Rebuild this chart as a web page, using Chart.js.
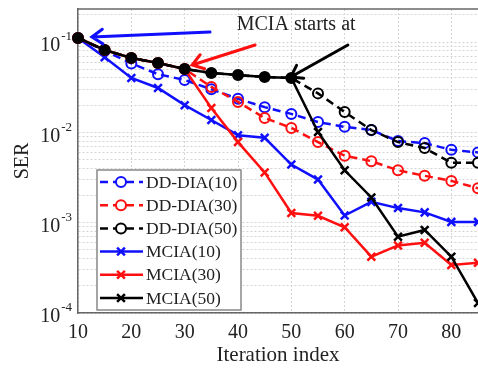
<!DOCTYPE html>
<html>
<head>
<meta charset="utf-8">
<script src="https://cdn.jsdelivr.net/npm/chart.js@4.4.0/dist/chart.umd.min.js"></script>
<style>
  html, body { margin: 0; padding: 0; background: #fff; }
</style>
</head>
<body>
<canvas id="graphique-ser" width="478" height="370"></canvas>
<script>
// *** donnees ***
const iterations = [10, 15, 20, 25, 30, 35, 40, 45, 50, 55, 60, 65, 70, 75, 80, 85];

const ddDia10 = [0.111, 0.080, 0.058, 0.044, 0.038, 0.030, 0.0235, 0.019, 0.016, 0.013, 0.0115, 0.0106, 0.0080, 0.0076, 0.0064, 0.0060];
const ddDia30 = [0.111, 0.0816, 0.0665, 0.0585, 0.0502, 0.0318, 0.0217, 0.0144, 0.0112, 0.0078, 0.0055, 0.0048, 0.0038, 0.0033, 0.0029, 0.0024];
const ddDia50 = [0.111, 0.0816, 0.0665, 0.0585, 0.0502, 0.0454, 0.0431, 0.0410, 0.0400, 0.0270, 0.0168, 0.0106, 0.0078, 0.0067, 0.0046, 0.0046];
const mcia10  = [0.111, 0.068, 0.040, 0.031, 0.0200, 0.0137, 0.0093, 0.0087, 0.0044, 0.0030, 0.0012, 0.0017, 0.00145, 0.0013, 0.00102, 0.00102];
const mcia30  = [0.111, 0.0816, 0.0665, 0.0585, 0.0502, 0.0186, 0.0078, 0.0036, 0.00128, 0.00119, 0.00089, 0.00042, 0.00056, 0.0006, 0.00034, 0.00036];
const mcia50  = [0.111, 0.0816, 0.0665, 0.0585, 0.0502, 0.0454, 0.0431, 0.0410, 0.0400, 0.0101, 0.0038, 0.0019, 0.0007, 0.00083, 0.00042, 0.000129];

const serieLabels = ["DD-DIA(10)", "DD-DIA(30)", "DD-DIA(50)", "MCIA(10)", "MCIA(30)", "MCIA(50)"];
const mciaStarts = [10, 30, 50];
const yDecades = [-4, -3, -2, -1];
const xTicks = [10, 20, 30, 40, 50, 60, 70, 80];
const noteText = "MCIA starts at";

const serif = "'Liberation Serif', 'Times New Roman', serif";
const ink = "#222";

function serie(label, values, color, dashed, start, order) {
    return {
        label: label,
        data: iterations.map((it, i) => ({ x: it, y: values[i] })),
        borderColor: color,
        borderWidth: 2.5,
        borderDash: dashed ? [8, 5] : [],
        pointStyle: dashed ? "circle" : "crossRot",
        pointRadius: dashed ? 5 : 5.5,
        pointBorderWidth: dashed ? 2 : 2.5,
        pointBorderColor: color,
        // avant le depart de MCIA les marqueurs se superposent : ils paraissent pleins
        pointBackgroundColor: dashed ? (c => iterations[c.dataIndex] <= start ? color : "rgba(0,0,0,0)") : color,
        fill: false,
        tension: 0,
        clip: false,
        order: order
    };
}

// fleches d'annotation, en coordonnees des donnees
const arrows = [
    { color: "#1010ff", from: [34.75, 0.129], to: [12.6, 0.1136] },
    { color: "#ff1010", from: [43.2, 0.0927], to: [31.4, 0.0556] },
    { color: "#000000", from: [60.6, 0.0927], to: [49.9, 0.041] }
];
const notePos = [50.9, 0.154];

function drawArrow(ctx, x0, y0, x1, y1, color) {
    const ang = Math.atan2(y1 - y0, x1 - x0), head = 13, spread = 0.6;
    ctx.strokeStyle = color;
    ctx.lineWidth = 3;
    ctx.lineCap = "round";
    ctx.setLineDash([]);
    ctx.beginPath();
    ctx.moveTo(x0, y0);
    ctx.lineTo(x1, y1);
    ctx.moveTo(x1 - head * Math.cos(ang - spread), y1 - head * Math.sin(ang - spread));
    ctx.lineTo(x1, y1);
    ctx.lineTo(x1 - head * Math.cos(ang + spread), y1 - head * Math.sin(ang + spread));
    ctx.stroke();
}

const decorations = {
    id: "decorations",
    afterDraw(chart) {
        const { ctx, chartArea: a, scales: { x, y } } = chart;
        ctx.save();

        // cadre du haut
        ctx.strokeStyle = "#666";
        ctx.lineWidth = 1.5;
        ctx.beginPath();
        ctx.moveTo(a.left, a.top);
        ctx.lineTo(a.right, a.top);
        ctx.stroke();

        // etiquettes 10^n de l'axe y
        ctx.fillStyle = ink;
        ctx.textBaseline = "middle";
        ctx.textAlign = "left";
        for (const e of yDecades) {
            const py = y.getPixelForValue(Math.pow(10, e));
            ctx.font = "20px " + serif;
            const wBase = ctx.measureText("10").width;
            ctx.font = "13px " + serif;
            const wExp = ctx.measureText(String(e)).width;
            const x0 = a.left - 6 - wExp - wBase - 1;
            ctx.font = "20px " + serif;
            ctx.fillText("10", x0, py + 4);
            ctx.font = "13px " + serif;
            ctx.fillText(String(e), x0 + wBase + 1, py - 5);
        }

        // fleches et texte
        for (const ar of arrows) {
            drawArrow(ctx,
                x.getPixelForValue(ar.from[0]), y.getPixelForValue(ar.from[1]),
                x.getPixelForValue(ar.to[0]), y.getPixelForValue(ar.to[1]),
                ar.color);
        }
        ctx.fillStyle = ink;
        ctx.font = "20px " + serif;
        ctx.textAlign = "center";
        ctx.fillText(noteText, x.getPixelForValue(notePos[0]), y.getPixelForValue(notePos[1]));

        // legende
        const lx = a.left + 19, ly = 170, lw = 144, lh = 140;
        ctx.fillStyle = "#fff";
        ctx.fillRect(lx, ly, lw, lh);
        ctx.strokeStyle = "#888";
        ctx.lineWidth = 1.5;
        ctx.strokeRect(lx, ly, lw, lh);
        chart.data.datasets.forEach((ds, i) => {
            const cy = ly + 12 + i * 23.2;
            ctx.strokeStyle = ds.borderColor;
            ctx.lineWidth = 2.5;
            ctx.lineCap = "butt";
            ctx.setLineDash(ds.borderDash);
            ctx.beginPath();
            ctx.moveTo(lx + 3, cy);
            ctx.lineTo(lx + 46, cy);
            ctx.stroke();
            ctx.setLineDash([]);
            ctx.fillStyle = "#fff";
            ctx.lineWidth = ds.pointBorderWidth;
            Chart.helpers.drawPoint(ctx, {
                pointStyle: ds.pointStyle, radius: ds.pointRadius,
                borderWidth: ds.pointBorderWidth, rotation: 0
            }, lx + 24, cy);
            ctx.fillStyle = ink;
            ctx.font = "17.5px " + serif;
            ctx.textAlign = "left";
            ctx.fillText(ds.label, lx + 49, cy + 1);
        });

        ctx.restore();
    }
};

const data = {
    datasets: [
        serie(serieLabels[0], ddDia10, "#1010ff", true, mciaStarts[0], 5),
        serie(serieLabels[1], ddDia30, "#ff1010", true, mciaStarts[1], 3),
        serie(serieLabels[2], ddDia50, "#000000", true, mciaStarts[2], 1),
        serie(serieLabels[3], mcia10, "#1010ff", false, mciaStarts[0], 4),
        serie(serieLabels[4], mcia30, "#ff1010", false, mciaStarts[1], 2),
        serie(serieLabels[5], mcia50, "#000000", false, mciaStarts[2], 0)
    ]
};

const gridStyle = { color: "#d4d4d4", lineWidth: 1, drawTicks: false };
const borderStyle = { display: true, color: "#666", width: 1.5, dash: [2, 2] };

const config = {
    type: "line",
    data: data,
    options: {
        responsive: false,
        animation: false,
        events: [],
        layout: { autoPadding: false, padding: { top: 9, right: 0, left: 0, bottom: 0 } },
        plugins: { legend: { display: false }, tooltip: { enabled: false } },
        scales: {
            x: {
                type: "linear",
                min: 10,
                max: 85,
                afterBuildTicks: scale => { scale.ticks = xTicks.map(v => ({ value: v })); },
                afterFit: scale => { scale.height = 57; },
                ticks: { color: ink, font: { family: serif, size: 20 }, padding: 8, maxRotation: 0 },
                grid: gridStyle,
                border: borderStyle,
                title: {
                    display: true, text: "Iteration index", color: ink,
                    font: { family: serif, size: 21 }, padding: { top: 0, bottom: 2 }
                }
            },
            y: {
                type: "logarithmic",
                min: 1e-4,
                max: 0.232,
                afterBuildTicks: scale => {
                    const t = [];
                    for (const e of yDecades) {
                        for (let m = 1; m <= 9; m++) {
                            const v = m * Math.pow(10, e);
                            if (v <= scale.max) t.push({ value: v });
                        }
                    }
                    scale.ticks = t;
                },
                afterFit: scale => { scale.width = 78; },
                ticks: { display: false },
                grid: gridStyle,
                border: borderStyle,
                title: {
                    display: true, text: "SER", color: ink,
                    font: { family: serif, size: 20 }, padding: { top: 11, bottom: 0 }
                }
            }
        }
    },
    plugins: [decorations]
};

new Chart(document.querySelector("#graphique-ser"), config);
</script>
</body>
</html>
